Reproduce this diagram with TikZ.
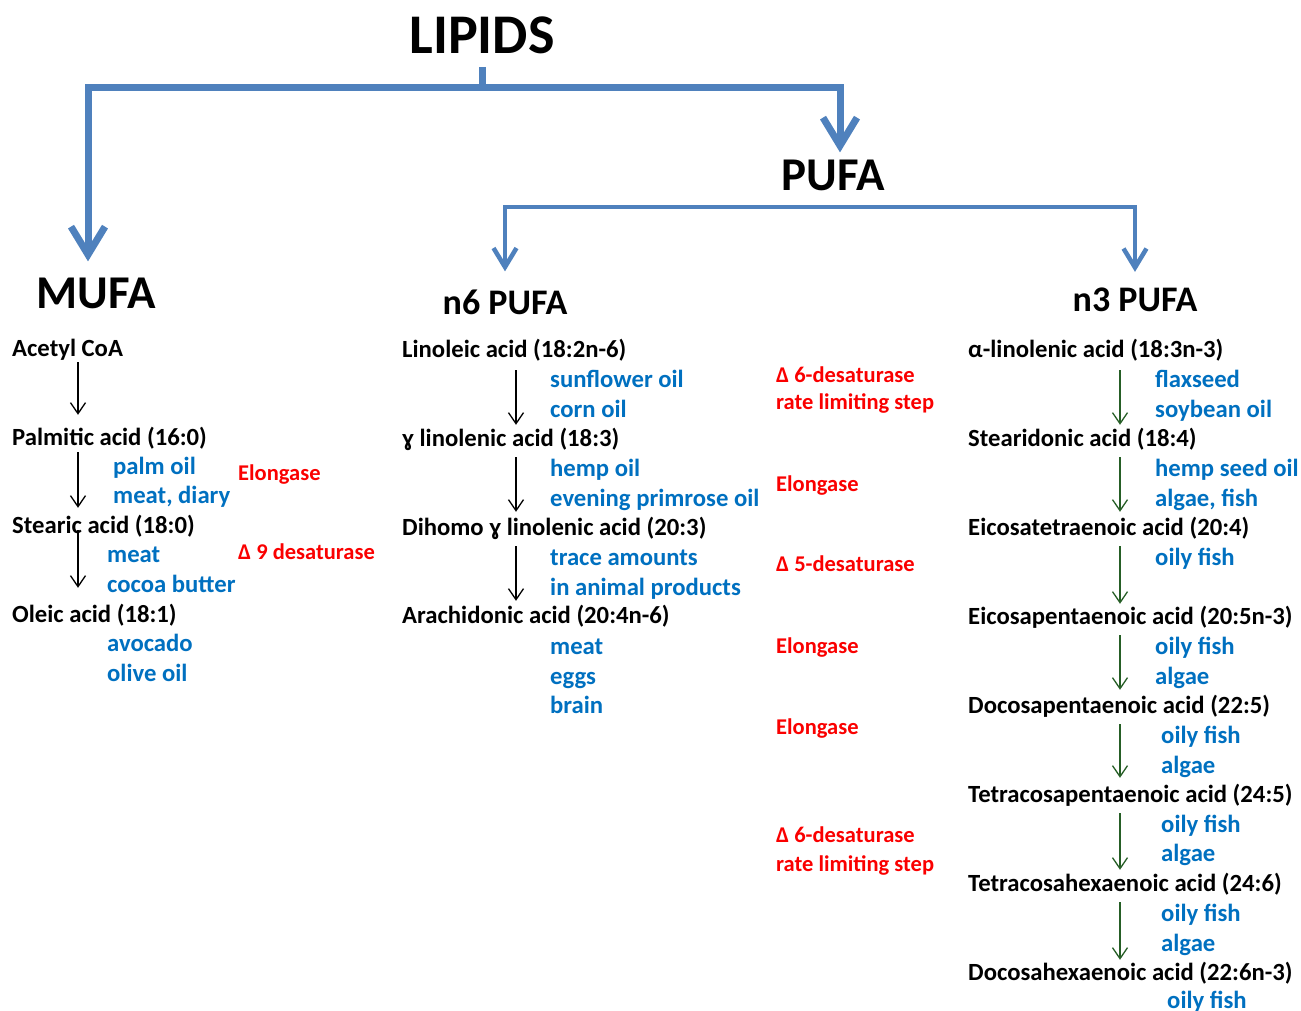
\documentclass[tikz,border=0pt]{standalone}
\usepackage{fontspec}
\setmainfont{Carlito}
\usetikzlibrary{arrows.meta}
\definecolor{linkblue}{RGB}{79,129,189}
\definecolor{foodblue}{RGB}{0,112,192}
\definecolor{enzred}{RGB}{250,0,0}
\definecolor{nthree}{RGB}{38,94,38}
\tikzset{
	acid/.style={anchor=base west, inner sep=0, text height=18pt, text depth=5pt, font=\fontsize{24.7}{29}\selectfont\bfseries},
	food/.style={acid, text=foodblue},
	enzyme/.style={anchor=base west, inner sep=0, text=enzred, font=\fontsize{22.5}{27}\selectfont\bfseries},
	head/.style={inner sep=0, font=\fontsize{#1}{#1}\selectfont\bfseries},
	trunk/.style={linkblue, line width=7pt, -{Straight Barb[length=28pt,width=34pt]}},
	branch/.style={linkblue, line width=4.5pt, -{Straight Barb[length=19pt,width=23pt]}},
	chain/.style={line width=1.3pt, shorten <=6pt, shorten >=4pt, -{Straight Barb[length=11pt,width=15pt]}},
}
\begin{document}
\begin{tikzpicture}[x=1pt, y=-1pt]
	\useasboundingbox (0,0) rectangle (1301,1011);

	\draw node[head=56] at (482, 35) (lipids) {LIPIDS};
	\draw node[head=47] at (833, 175) (pufa) {PUFA};
	\draw node[head=47] at (96, 293) (mufa) {MUFA};
	\draw node[head=36] at (505, 302) (n6) {n6 PUFA};
	\draw node[head=36] at (1135, 300) (n3) {n3 PUFA};

	\coordinate (lipsplit) at (482, 88);
	\coordinate (pufasplit) at (833, 207);
	\draw [linkblue, line width=7pt] ([yshift=-13pt]lipids.south) -- (lipsplit);
	\draw [trunk, shorten >=16pt] (lipsplit) -| ([xshift=-8pt]mufa.north);
	\draw [trunk, shorten >=7pt]  (lipsplit) -| ([xshift=7pt]pufa.north);
	\draw [branch, shorten >=18pt] (pufasplit) -| (n6.north);
	\draw [branch, shorten >=16pt] (pufasplit) -| (n3.north);

	% MUFA
	\coordinate (mufaaxis) at (78, 0);
	\draw node[acid] at (12, 356) (acetyl) {Acetyl CoA};
	\draw node[acid] at (12, 445) (palmitic) {Palmitic acid (16:0)};
	\draw node[food] at (113, 474) (palmoil) {palm oil};
	\draw node[food] at (113, 503) (meatdiary) {meat, diary};
	\draw node[acid] at (12, 533) (stearic) {Stearic acid (18:0)};
	\draw node[food] at (107, 562) (meatm) {meat};
	\draw node[food] at (107, 592) (cocoa) {cocoa butter};
	\draw node[acid] at (12, 622) (oleic) {Oleic acid (18:1)};
	\draw node[food] at (107, 651) (avocado) {avocado};
	\draw node[food] at (107, 681) (olive) {olive oil};
	\draw node[enzyme] at (238, 480) (elongm) {Elongase};
	\draw node[enzyme] at (238, 559) (desat9) {Δ 9 desaturase};

	\draw [chain, shorten <=1pt, shorten >=12pt] (acetyl.south -| mufaaxis) -- (palmitic.north -| mufaaxis);
	\draw [chain, shorten <=2pt, shorten >=7pt]  (palmitic.south -| mufaaxis) -- (stearic.north -| mufaaxis);
	\draw [chain, shorten <=-8pt, shorten >=16pt] (stearic.south -| mufaaxis) -- (oleic.north -| mufaaxis);

	% n6 PUFA
	\coordinate (sixaxis) at (516, 0);
	\draw node[acid] at (402, 357) (linoleic) {Linoleic acid (18:2n-6)};
	\draw node[food] at (550, 387) (sunflower) {sunflower oil};
	\draw node[food] at (550, 417) (corn) {corn oil};
	\draw node[acid] at (402, 446) (gla) {ɣ linolenic acid (18:3)};
	\draw node[food] at (550, 476) (hemp) {hemp oil};
	\draw node[food] at (550, 506) (primrose) {evening primrose oil};
	\draw node[acid] at (402, 535) (dgla) {Dihomo ɣ linolenic acid (20:3)};
	\draw node[food] at (550, 565) (trace) {trace amounts};
	\draw node[food] at (550, 595) (animal) {in animal products};
	\draw node[acid] at (402, 623) (arachidonic) {Arachidonic acid (20:4n-6)};
	\draw node[food] at (550, 654) (meatsix) {meat};
	\draw node[food] at (550, 684) (eggs) {eggs};
	\draw node[food] at (550, 713) (brain) {brain};

	\draw [chain, shorten <=8pt, shorten >=3pt] (linoleic.south -| sixaxis) -- (gla.north -| sixaxis);
	\draw [chain, shorten >=5pt] (gla.south -| sixaxis) -- (dgla.north -| sixaxis);
	\draw [chain] (dgla.south -| sixaxis) -- (arachidonic.north -| sixaxis);

	% enzymes
	\draw node[enzyme] at (776, 382) (desatsix) {Δ 6-desaturase};
	\draw node[enzyme] at (776, 409) (ratesix) {rate limiting step};
	\draw node[enzyme] at (776, 491) (elongone) {Elongase};
	\draw node[enzyme] at (776, 571) (desatfive) {Δ 5-desaturase};
	\draw node[enzyme] at (776, 653) (elongtwo) {Elongase};
	\draw node[enzyme] at (776, 734) (elongthree) {Elongase};
	\draw node[enzyme] at (776, 842) (desatsixb) {Δ 6-desaturase};
	\draw node[enzyme] at (776, 871) (ratesixb) {rate limiting step};

	% n3 PUFA
	\coordinate (threeaxis) at (1120, 0);
	\draw node[acid] at (968, 357) (ala) {α-linolenic acid (18:3n-3)};
	\draw node[food] at (1155, 387) (flax) {flaxseed};
	\draw node[food] at (1155, 417) (soy) {soybean oil};
	\draw node[acid] at (968, 446) (sda) {Stearidonic acid (18:4)};
	\draw node[food] at (1155, 476) (hempseed) {hemp seed oil};
	\draw node[food] at (1155, 506) (algaefish) {algae, fish};
	\draw node[acid] at (968, 535) (eta) {Eicosatetraenoic acid (20:4)};
	\draw node[food] at (1155, 565) (fisha) {oily fish};
	\draw node[acid] at (968, 624) (epa) {Eicosapentaenoic acid (20:5n-3)};
	\draw node[food] at (1155, 654) (fishb) {oily fish};
	\draw node[food] at (1155, 684) (algaeb) {algae};
	\draw node[acid] at (968, 713) (dpa) {Docosapentaenoic acid (22:5)};
	\draw node[food] at (1161, 743) (fishc) {oily fish};
	\draw node[food] at (1161, 773) (algaec) {algae};
	\draw node[acid] at (968, 802) (tpa) {Tetracosapentaenoic acid (24:5)};
	\draw node[food] at (1161, 832) (fishd) {oily fish};
	\draw node[food] at (1161, 861) (algaed) {algae};
	\draw node[acid] at (968, 891) (tha) {Tetracosahexaenoic acid (24:6)};
	\draw node[food] at (1161, 921) (fishe) {oily fish};
	\draw node[food] at (1161, 951) (algaee) {algae};
	\draw node[acid] at (968, 980) (dha) {Docosahexaenoic acid (22:6n-3)};
	\draw node[food] at (1167, 1008) (fishf) {oily fish};

	\draw [chain, nthree, shorten <=8pt, shorten >=3pt] (ala.south -| threeaxis) -- (sda.north -| threeaxis);
	\draw [chain, nthree, shorten >=5pt] (sda.south -| threeaxis) -- (eta.north -| threeaxis);
	\draw [chain, nthree, shorten >=2pt] (eta.south -| threeaxis) -- (epa.north -| threeaxis);
	\draw [chain, nthree, shorten >=5pt] (epa.south -| threeaxis) -- (dpa.north -| threeaxis);
	\draw [chain, nthree, shorten >=6pt] (dpa.south -| threeaxis) -- (tpa.north -| threeaxis);
	\draw [chain, nthree, shorten >=3pt] (tpa.south -| threeaxis) -- (tha.north -| threeaxis);
	\draw [chain, nthree, shorten >=2pt] (tha.south -| threeaxis) -- (dha.north -| threeaxis);
\end{tikzpicture}
\end{document}
